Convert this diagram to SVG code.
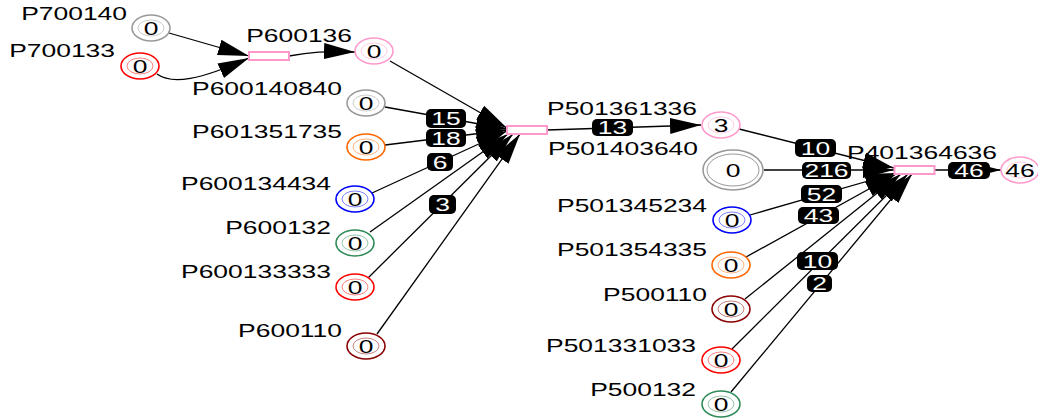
<svg xmlns="http://www.w3.org/2000/svg" width="1038" height="420" viewBox="0 0 1038 420">
<style>
text { font-family: "Liberation Sans", Arial, sans-serif; font-size: 18px; }
.lbl { fill: #000; text-anchor: end; }
.val { fill: #000; text-anchor: middle; }
.o { fill: #fff; stroke-width: 1.6; }
.i { fill: none; stroke-width: 0.7; opacity: 0.7; }
.tr { fill: #fff; stroke: #ff99cc; stroke-width: 2; }
.gray { stroke: #999999; }
.red { stroke: #ff0000; }
.pink { stroke: #ff99cc; }
.orange { stroke: #ff6600; }
.blue { stroke: #0000ff; }
.green { stroke: #2e8b57; }
.dred { stroke: #8b0000; }
.e { fill: none; stroke: #000; stroke-width: 1.3; marker-end: url(#ah); }
.eb { fill: #000; }
.et { fill: #fff; text-anchor: middle; }
</style>
<defs>
<marker id="ah" markerUnits="userSpaceOnUse" markerWidth="34" markerHeight="18" refX="31" refY="8" orient="auto">
<path d="M0,0 L31,8 L0,16 z" fill="#000"/>
</marker>
</defs>
<rect width="1038" height="420" fill="#fff"/>

<g id="connectors">
<path class="e" d="M169,33 L249,56"/>
<path class="e" d="M157,74 C172,85 200,80 249,58"/>
<path class="e" d="M289,56 C310,52 325,51 355,52"/>
<path class="e" d="M390,61 L507,128"/>
<path class="e" d="M385,107 L507,129"/>
<path class="e" d="M385,145 L507,130"/>
<path class="e" d="M372,193 L507,131"/>
<path class="e" d="M370,232 L508,134"/>
<path class="e" d="M368,278 L513,134"/>
<path class="e" d="M377,334 L520,134"/>
<path class="e" d="M547,130 L701,125"/>
<path class="e" d="M739,129 L894,168"/>
<path class="e" d="M764,170 L894,170"/>
<path class="e" d="M750,215 L896,173"/>
<path class="e" d="M746,257 L896,174"/>
<path class="e" d="M745,299 L901,174"/>
<path class="e" d="M732,349 L908,174"/>
<path class="e" d="M731,392 L912,174"/>
<path class="e" d="M935,170 L1001,170"/>
<g id="edge-labels">
<rect class="eb" x="426" y="109" width="40" height="19" rx="5"/><text class="et" transform="translate(446,125) scale(1.47,1)">15</text>
<rect class="eb" x="426" y="129" width="40" height="18" rx="5"/><text class="et" transform="translate(446,144.5) scale(1.47,1)">18</text>
<rect class="eb" x="427" y="153" width="26" height="18" rx="5"/><text class="et" transform="translate(440,168.5) scale(1.47,1)">6</text>
<rect class="eb" x="429" y="195" width="27" height="19" rx="5"/><text class="et" transform="translate(442.5,211) scale(1.47,1)">3</text>
<rect class="eb" x="592" y="119" width="41" height="17" rx="5"/><text class="et" transform="translate(612.5,134) scale(1.47,1)">13</text>
<rect class="eb" x="795" y="139" width="41" height="18" rx="5"/><text class="et" transform="translate(815.5,154.5) scale(1.47,1)">10</text>
<rect class="eb" x="802" y="162" width="49" height="17" rx="5"/><text class="et" transform="translate(826.5,177) scale(1.47,1)">216</text>
<rect class="eb" x="801" y="185" width="41" height="18" rx="5"/><text class="et" transform="translate(821.5,200.5) scale(1.47,1)">52</text>
<rect class="eb" x="798" y="207" width="41" height="17" rx="5"/><text class="et" transform="translate(818.5,222) scale(1.47,1)">43</text>
<rect class="eb" x="797" y="252" width="41" height="18" rx="5"/><text class="et" transform="translate(817.5,267.5) scale(1.47,1)">10</text>
<rect class="eb" x="807" y="275" width="25" height="17" rx="5"/><text class="et" transform="translate(819.5,290) scale(1.47,1)">2</text>
<rect class="eb" x="948" y="162" width="42" height="17" rx="5"/><text class="et" transform="translate(969,177) scale(1.47,1)">46</text>
</g>
</g>

<g id="t1"><rect class="tr" x="249" y="52" width="40" height="8"/></g>
<g id="t2"><rect class="tr" x="507" y="126" width="40" height="8"/></g>
<g id="t3"><rect class="tr" x="894.5" y="166" width="40" height="8"/></g>

<g id="P700140"><ellipse class="o gray" cx="151" cy="28" rx="19" ry="13"/><ellipse class="i gray" cx="151" cy="28" rx="13" ry="8"/><text class="val" transform="translate(151,34.5) scale(1.47,1)">0</text><text class="lbl" transform="translate(127,20) scale(1.47,1)">P700140</text></g>
<g id="P700133"><ellipse class="o red" cx="140" cy="66" rx="19" ry="13"/><ellipse class="i red" cx="140" cy="66" rx="13" ry="8"/><text class="val" transform="translate(140,72.5) scale(1.47,1)">0</text><text class="lbl" transform="translate(115,57) scale(1.47,1)">P700133</text></g>
<g id="P600136"><ellipse class="o pink" cx="374" cy="51" rx="19" ry="13"/><ellipse class="i pink" cx="374" cy="51" rx="13" ry="8"/><text class="val" transform="translate(374,57.5) scale(1.47,1)">0</text><text class="lbl" transform="translate(352,42) scale(1.47,1)">P600136</text></g>
<g id="P600140840"><ellipse class="o gray" cx="366" cy="103" rx="19" ry="13"/><ellipse class="i gray" cx="366" cy="103" rx="13" ry="8"/><text class="val" transform="translate(366,109.5) scale(1.47,1)">0</text><text class="lbl" transform="translate(342,95) scale(1.47,1)">P600140840</text></g>
<g id="P601351735"><ellipse class="o orange" cx="366" cy="147" rx="19" ry="13"/><ellipse class="i orange" cx="366" cy="147" rx="13" ry="8"/><text class="val" transform="translate(366,153.5) scale(1.47,1)">0</text><text class="lbl" transform="translate(342,138) scale(1.47,1)">P601351735</text></g>
<g id="P600134434"><ellipse class="o blue" cx="355" cy="199" rx="19" ry="13"/><ellipse class="i blue" cx="355" cy="199" rx="13" ry="8"/><text class="val" transform="translate(355,205.5) scale(1.47,1)">0</text><text class="lbl" transform="translate(331,190) scale(1.47,1)">P600134434</text></g>
<g id="P600132"><ellipse class="o green" cx="355" cy="243" rx="19" ry="13"/><ellipse class="i green" cx="355" cy="243" rx="13" ry="8"/><text class="val" transform="translate(355,249.5) scale(1.47,1)">0</text><text class="lbl" transform="translate(331,234) scale(1.47,1)">P600132</text></g>
<g id="P600133333"><ellipse class="o red" cx="355" cy="287" rx="19" ry="13"/><ellipse class="i red" cx="355" cy="287" rx="13" ry="8"/><text class="val" transform="translate(355,293.5) scale(1.47,1)">0</text><text class="lbl" transform="translate(331,278) scale(1.47,1)">P600133333</text></g>
<g id="P600110"><ellipse class="o dred" cx="366" cy="346" rx="19" ry="13"/><ellipse class="i dred" cx="366" cy="346" rx="13" ry="8"/><text class="val" transform="translate(366,352.5) scale(1.47,1)">0</text><text class="lbl" transform="translate(342,337) scale(1.47,1)">P600110</text></g>
<g id="P501361336"><ellipse class="o pink" cx="721" cy="125" rx="19" ry="13"/><ellipse class="i pink" cx="721" cy="125" rx="13" ry="8"/><text class="val" transform="translate(721,131.5) scale(1.47,1)">3</text><text class="lbl" transform="translate(697,115) scale(1.47,1)">P501361336</text></g>
<g id="P501403640"><ellipse class="o gray" cx="733" cy="170" rx="30" ry="20"/><ellipse class="o gray" cx="733" cy="170" rx="26" ry="16" style="stroke-width:1"/><text class="val" transform="translate(733,176.5) scale(1.47,1)">0</text><text class="lbl" transform="translate(698,155) scale(1.47,1)">P501403640</text></g>
<g id="P501345234"><ellipse class="o blue" cx="732" cy="220" rx="19" ry="13"/><ellipse class="i blue" cx="732" cy="220" rx="13" ry="8"/><text class="val" transform="translate(732,226.5) scale(1.47,1)">0</text><text class="lbl" transform="translate(707,212) scale(1.47,1)">P501345234</text></g>
<g id="P501354335"><ellipse class="o orange" cx="731" cy="265" rx="19" ry="13"/><ellipse class="i orange" cx="731" cy="265" rx="13" ry="8"/><text class="val" transform="translate(731,271.5) scale(1.47,1)">0</text><text class="lbl" transform="translate(707,256) scale(1.47,1)">P501354335</text></g>
<g id="P500110"><ellipse class="o dred" cx="731" cy="309" rx="19" ry="13"/><ellipse class="i dred" cx="731" cy="309" rx="13" ry="8"/><text class="val" transform="translate(731,315.5) scale(1.47,1)">0</text><text class="lbl" transform="translate(707,301) scale(1.47,1)">P500110</text></g>
<g id="P501331033"><ellipse class="o red" cx="721" cy="360" rx="19" ry="13"/><ellipse class="i red" cx="721" cy="360" rx="13" ry="8"/><text class="val" transform="translate(721,366.5) scale(1.47,1)">0</text><text class="lbl" transform="translate(696,352) scale(1.47,1)">P501331033</text></g>
<g id="P500132"><ellipse class="o green" cx="721" cy="404" rx="19" ry="13"/><ellipse class="i green" cx="721" cy="404" rx="13" ry="8"/><text class="val" transform="translate(721,410.5) scale(1.47,1)">0</text><text class="lbl" transform="translate(696,396) scale(1.47,1)">P500132</text></g>
<g id="P401364636"><ellipse class="o pink" cx="1020" cy="170" rx="19" ry="13"/><ellipse class="i pink" cx="1020" cy="170" rx="13" ry="8"/><text class="val" transform="translate(1020,176.5) scale(1.47,1)">46</text><text class="lbl" transform="translate(997,159) scale(1.47,1)">P401364636</text></g>
</svg>
